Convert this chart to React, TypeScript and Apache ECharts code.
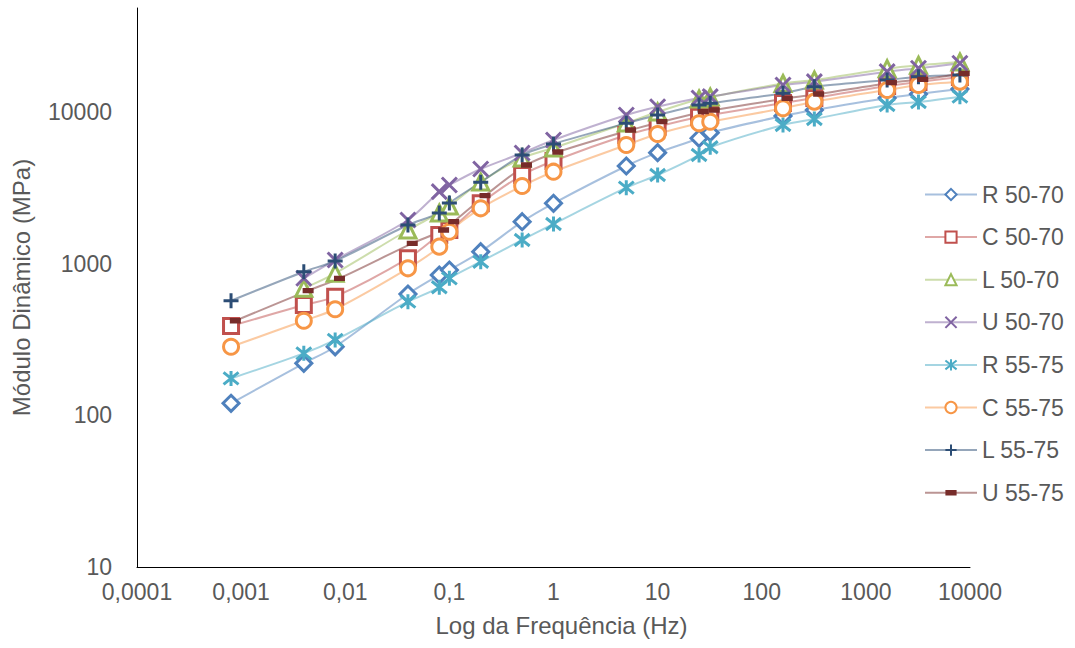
import React, { useEffect, useRef } from "react";
import * as echarts from "echarts";

const FREQ = [0.0008, 0.004, 0.008, 0.04, 0.08, 0.1, 0.2, 0.5, 1, 5, 10, 25, 32, 160, 320, 1600, 3200, 8000];
const FREQ_U5575 = [0.00088, 0.0044, 0.0088, 0.044, 0.088, 0.11, 0.22, 0.55, 1.1, 5.5, 11, 27.5, 35, 176, 352, 1760, 3520, 8800];

const R5070 = [120, 220, 283, 630, 841, 907, 1198, 1889, 2497, 4399, 5384, 6699, 7295, 9400, 10290, 12350, 13120, 14160];
const C5070 = [388, 533, 605, 1083, 1544, 1665, 2497, 3837, 4747, 7042, 7990, 9290, 9540, 11450, 12350, 14820, 15740, 16980];
const L5070 = [null, 687, 863, 1665, 2156, 2397, 3451, 4968, 5781, 8450, 9990, 12160, 12540, 15390, 16230, 19270, 20290, 21330];
const U5070 = [null, 800, 1056, 1939, 2979, 3297, 4204, 5358, 6527, 9540, 10820, 12350, 12600, 15040, 15820, 18410, 19390, 20910];
const R5575 = [175, 256, 314, 561, 698, 800, 1029, 1431, 1824, 3165, 3837, 5197, 5844, 8198, 8980, 11110, 11620, 12600];
const C5575 = [283, 420, 500, 931, 1293, 1623, 2315, 3248, 4034, 6051, 7151, 8412, 8618, 10560, 11680, 13950, 15040, 15820];
const L5575 = [569, 884, 1040, 1797, 2156, 2509, 3436, 5197, 6143, 8412, 9540, 11110, 11390, 13270, 14660, 16230, 17070, 17510];
const U5575 = [420, 663, 800, 1361, 1665, 1889, 2803, 4467, 5441, 7598, 8618, 10030, 10290, 12290, 13120, 15580, 16400, 17970];

const NAMES = ["R 50-70", "C 50-70", "L 50-70", "U 50-70", "R 55-75", "C 55-75", "L 55-75", "U 55-75"];

const X_SYM = "path://M0,0L10,10M10,0L0,10";
const PLUS_SYM = "path://M5,0L5,10M0,5L10,5";
const STAR_SYM = "path://M1,1L9,9M9,1L1,9M5,0L5,10";
const DASH_SYM = "path://M0,0L0.01,0L0.01,0.01ZM10,10L9.99,10L9.99,9.99ZM0,2.6L10,2.6L10,7.4L0,7.4Z";

const FONT = "'Liberation Sans', Arial, sans-serif";
const TXT = "#595959";

function rgba(hex: string, a: number) {
  const n = parseInt(hex.slice(1), 16);
  return `rgba(${(n >> 16) & 255},${(n >> 8) & 255},${n & 255},${a})`;
}

function pairs(xs: number[], ys: (number | null)[]) {
  const out: number[][] = [];
  ys.forEach((y, i) => {
    if (y != null) out.push([xs[i], y]);
  });
  return out;
}

function fmtX(v: number) {
  const e = Math.round(Math.log10(v));
  if (e < 0) return "0," + "0".repeat(-e - 1) + "1";
  return "1" + "0".repeat(e);
}
function fmtY(v: number) {
  const l = Math.log10(v);
  if (Math.abs(l - Math.round(l)) > 1e-6) return "";
  return "1" + "0".repeat(Math.round(l));
}

export default function App() {
  const ref = useRef<HTMLDivElement>(null);
  useEffect(() => {
    if (!ref.current) return;
    const chart = echarts.init(ref.current, null, { renderer: "svg" });

    const specs = [
      { name: NAMES[0], data: pairs(FREQ, R5070), color: "#4F81BD", symbol: "diamond", size: 16, hollow: true },
      { name: NAMES[1], data: pairs(FREQ, C5070), color: "#C0504D", symbol: "rect", size: 15, hollow: true },
      { name: NAMES[2], data: pairs(FREQ, L5070), color: "#9BBB59", symbol: "triangle", size: 16, hollow: true },
      { name: NAMES[3], data: pairs(FREQ, U5070), color: "#8064A2", symbol: X_SYM, size: 15, hollow: false },
      { name: NAMES[4], data: pairs(FREQ, R5575), color: "#4BACC6", symbol: STAR_SYM, size: 15, hollow: false },
      { name: NAMES[5], data: pairs(FREQ, C5575), color: "#F79646", symbol: "circle", size: 15, hollow: true },
      { name: NAMES[6], data: pairs(FREQ, L5575), color: "#2C4D75", symbol: PLUS_SYM, size: 15, hollow: false },
      { name: NAMES[7], data: pairs(FREQ_U5575, U5575), color: "#772C2A", symbol: DASH_SYM, size: 11, hollow: false, dash: true },
    ];

    const series = specs.map((s: any) => ({
      type: "line",
      name: s.name,
      data: s.data,
      smooth: 0.3,
      symbol: s.symbol,
      symbolSize: s.size,
      showAllSymbol: true,
      lineStyle: { color: rgba(s.color, 0.5), width: 2 },
      itemStyle: s.dash
        ? { color: s.color, borderWidth: 0 }
        : {
            color: s.hollow ? "#ffffff" : s.color,
            borderColor: s.color,
            borderWidth: 3,
          },
      emphasis: { disabled: true },
      z: 2,
    }));

    chart.setOption({
      animation: false,
      textStyle: { fontFamily: FONT },
      grid: { left: 137, right: 105, top: 8, bottom: 81, containLabel: false },
      legend: {
        orient: "vertical",
        left: 919,
        top: 178,
        itemWidth: 52,
        itemHeight: 14,
        itemGap: 19.6,
        data: NAMES,
        textStyle: { color: TXT, fontSize: 23, fontFamily: FONT },
        selectedMode: false,
      },
      xAxis: {
        type: "log",
        logBase: 10,
        min: 0.0001,
        max: 10000,
        name: "Log da Frequência (Hz)",
        nameLocation: "middle",
        nameGap: 46,
        nameTextStyle: { color: TXT, fontSize: 24, fontFamily: FONT, padding: [0, 0, 0, 16] },
        axisLine: { show: true, lineStyle: { color: "#000000", width: 1 } },
        axisTick: { show: false },
        splitLine: { show: false },
        minorTick: { show: false },
        axisLabel: { color: TXT, fontSize: 23, margin: 13, formatter: fmtX, fontFamily: FONT },
      },
      yAxis: {
        type: "log",
        logBase: 10,
        min: 10,
        max: 48400,
        name: "Módulo Dinâmico (MPa)",
        nameLocation: "middle",
        nameGap: 104,
        nameTextStyle: { color: TXT, fontSize: 24, fontFamily: FONT },
        axisLine: { show: true, lineStyle: { color: "#000000", width: 1 } },
        axisTick: { show: false },
        splitLine: { show: false },
        axisLabel: {
          color: TXT,
          fontSize: 23,
          margin: 25,
          formatter: fmtY,
          showMaxLabel: false,
          fontFamily: FONT,
        },
      },
      series,
    });
    return () => chart.dispose();
  }, []);
  return (
    <div
      ref={ref}
      style={{ position: "fixed", left: 0, top: 0, width: 1075, height: 648, background: "#ffffff" }}
    />
  );
}
